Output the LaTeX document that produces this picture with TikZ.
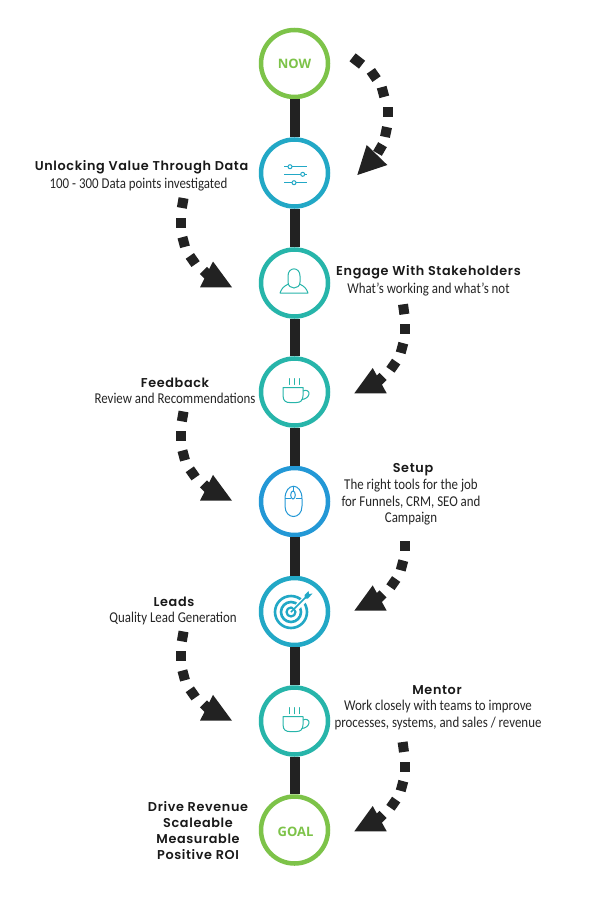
\documentclass[tikz,border=0pt]{standalone}
\usepackage{fontspec}
\newfontfamily\subf[FakeStretch=0.86]{Carlito}
\newfontfamily\headf[LetterSpace=5,BoldFont=Poppins SemiBold]{Poppins}
\newfontfamily\ringf{Open Sans}
\setmainfont{Carlito}
\definecolor{cgreen}{HTML}{7DC349}
\definecolor{cblue}{HTML}{22A8C6}
\definecolor{cteal}{HTML}{27B5AA}
\definecolor{cmouse}{HTML}{2398D6}
\definecolor{cblack}{HTML}{222222}
\tikzset{
  x=1pt,y=-1pt,
  ring/.style={circle,draw=#1,fill=white,line width=4.5pt,minimum size=67pt,inner sep=0pt},
  trunk/.style={cblack,line width=10pt},
  head/.style={align=center,font=\headf\bfseries\fontsize{12.8}{16}\selectfont,text=black!90,inner sep=0pt},
  subt/.style={align=center,font=\subf\fontsize{15}{16.5}\selectfont,text=black!85,inner sep=0pt},
  ringt/.style={font=\ringf\bfseries\fontsize{13}{15}\selectfont,text=cgreen,inner sep=0pt},
  ico/.style={line width=1pt},
  cup/.pic={
    \draw[ico,draw=cteal,line cap=round] (-11.5,-5) -- (8.5,-5) (-11.5,-5) -- (-11.5,3) .. controls (-11.5,9) and (-8,10) .. (-5,10) -- (2,10) .. controls (6,10) and (8.5,8) .. (8.5,3) -- (8.5,-5);
    \draw[ico,draw=cteal] (8.5,-1.5) .. controls (12,-3.5) and (15,-1) .. (14.5,1.5) .. controls (14,5) and (10,7) .. (7,7);
    \draw[ico,draw=cteal,line cap=round] (-5.5,-14) -- (-5.5,-8) (-0.5,-14) -- (-0.5,-8) (4.5,-14) -- (4.5,-8);
  },
}
\newcommand{\sq}[3]{\fill[cblack,shift={(#1,#2)},rotate=#3] (-5,-5) rectangle (5,5);}
\newcommand{\tip}[2]{\fill[cblack,shift={(#1,#2)}] (0,0) -- (-32,0) -- (-19,-25.8) -- cycle;}
\begin{document}
\begin{tikzpicture}
\useasboundingbox (0,0) rectangle (600,909);
\fill[white] (0,0) rectangle (600,909);
% rings
\node[ring=cgreen] (n0) at (294.5,63.5) {};
\node[ring=cblue] (n1) at (294.5,173) {};
\node[ring=cteal] (n2) at (294.5,283) {};
\node[ring=cteal] (n3) at (294.5,392) {};
\node[ring=cmouse] (n4) at (294.5,501.5) {};
\node[ring=cblue] (n5) at (294.5,611.5) {};
\node[ring=cteal] (n6) at (294.5,721) {};
\node[ring=cgreen] (n7) at (294.5,830) {};
\draw[trunk] (n0) -- (n1);
\draw[trunk] (n1) -- (n2);
\draw[trunk] (n2) -- (n3);
\draw[trunk] (n3) -- (n4);
\draw[trunk] (n4) -- (n5);
\draw[trunk] (n5) -- (n6);
\draw[trunk] (n6) -- (n7);
% ring labels
\node[ringt] (lnow) at (294.5,64) {NOW};
\node[ringt] (lgoal) at (295.5,832) {GOAL};
% sliders
\begin{scope}[ico,draw=cblue]
\draw (284,166.7) -- (307,166.7) (284,174.3) -- (307,174.3) (284,182.7) -- (307,182.7);
\filldraw[fill=white] (290,166.7) circle (2);
\filldraw[fill=white] (302.7,174.3) circle (2);
\filldraw[fill=white] (294,182.7) circle (2);
\end{scope}
% person
\draw[ico,draw=cteal] (288,276) .. controls (288,266.5) and (300,266.5) .. (300,276) -- (300,282) .. controls (300,286) and (297,288) .. (294,288) .. controls (291,288) and (288,286) .. (288,282) -- cycle;
\draw[ico,draw=cteal,line join=round] (288.5,284) .. controls (284,286) and (281.5,288.5) .. (280,293) -- (308,293) .. controls (306.5,288.5) and (304,286) .. (299.5,284);
% cups
\pic at (294.5,392.5) {cup};
\pic at (294.5,721.5) {cup};
% mouse
\draw[ico,draw=cmouse] (285,499) .. controls (285,482) and (302,482) .. (302,499) -- (302,506) .. controls (302,520) and (285,520) .. (285,506) -- cycle;
\draw[ico,draw=cmouse] (285,498.5) -- (290.5,498.5) (295.5,498.5) -- (302,498.5) (293,487) -- (293,491);
\draw[ico,draw=cmouse] (293,495) ellipse (2.3 and 4);
% target
\draw[cblue,line width=2.6pt] (291,612) circle (16);
\draw[cblue,line width=2.6pt] (291,612) circle (10);
\draw[cblue,line width=2.2pt] (291,612) circle (4.5);
\fill[white] (293,607) -- (308,592) -- (312,596) -- (297,611) -- cycle;
\draw[cblue,line width=1.5pt] (291,612) -- (307,596);
\fill[cblue] (304.5,595) -- (308.5,591) -- (309,594) -- (312.5,593.5) -- (308,598.5) -- (305,598.5) -- cycle;
% arrow 1
\fill[cblack,shift={(357.3,61)},rotate=-38] (-6,-5) rectangle (6,5);
\sq{373.7}{75}{35}
\sq{383}{92}{15}
\sq{388}{112}{0}
\sq{386}{132}{-12}
\sq{380}{149}{-30}
\fill[cblack] (366.7,145) -- (387.3,165) -- (357.3,175) -- cycle;
% left arrows
\foreach \d in {0,213.4,433.4}{
  \sq{182.7}{203+\d}{-10}
  \sq{180.7}{223+\d}{0}
  \sq{183.7}{242+\d}{15}
  \sq{192.7}{260+\d}{35}
  \sq{207}{274+\d}{45}
  \tip{232}{287.3+\d}
}
% right arrows
\sq{403.7}{309.3}{8}
\sq{403.3}{747}{8}
\foreach \d in {-438,-220.6,0}{
  \sq{405.3}{767+\d}{0}
  \sq{402}{786+\d}{-15}
  \sq{393.3}{803.7+\d}{-35}
  \sq{379.5}{818+\d}{-45}
  \fill[cblack,shift={(386.7,831.3+\d)}] (0,0) -- (-32.4,0) -- (-14,-25.3) -- cycle;
}
% texts
\node[head] (t1) at (141.5,167) {Unlocking Value Through Data};
\node[subt] (s1) at (138.5,185) {100 - 300 Data points investigated};
\node[head] (t2) at (428.5,272) {Engage With Stakeholders};
\node[subt] (s2) at (428.5,290) {What’s working and what’s not};
\node[head] (t3) at (175,383) {Feedback};
\node[subt] (s3) at (175,398) {Review and Recommendations};
\node[head] (t4) at (413,470) {Setup};
\node[subt,anchor=north] (s4) at (411,479) {The right tools for the job\\for Funnels, CRM, SEO and\\Campaign};
\node[head] (t5) at (174,602) {Leads};
\node[subt] (s5) at (173,618) {Quality Lead Generation};
\node[head] (t6) at (437,690) {Mentor};
\node[subt,anchor=north] (s6) at (438,700) {Work closely with teams to improve\\processes, systems, and sales / revenue};
\node[head] (t7) at (198,831) [align=center] {Drive Revenue\\Scaleable\\Measurable\\Positive ROI};
\end{tikzpicture}
\end{document}
